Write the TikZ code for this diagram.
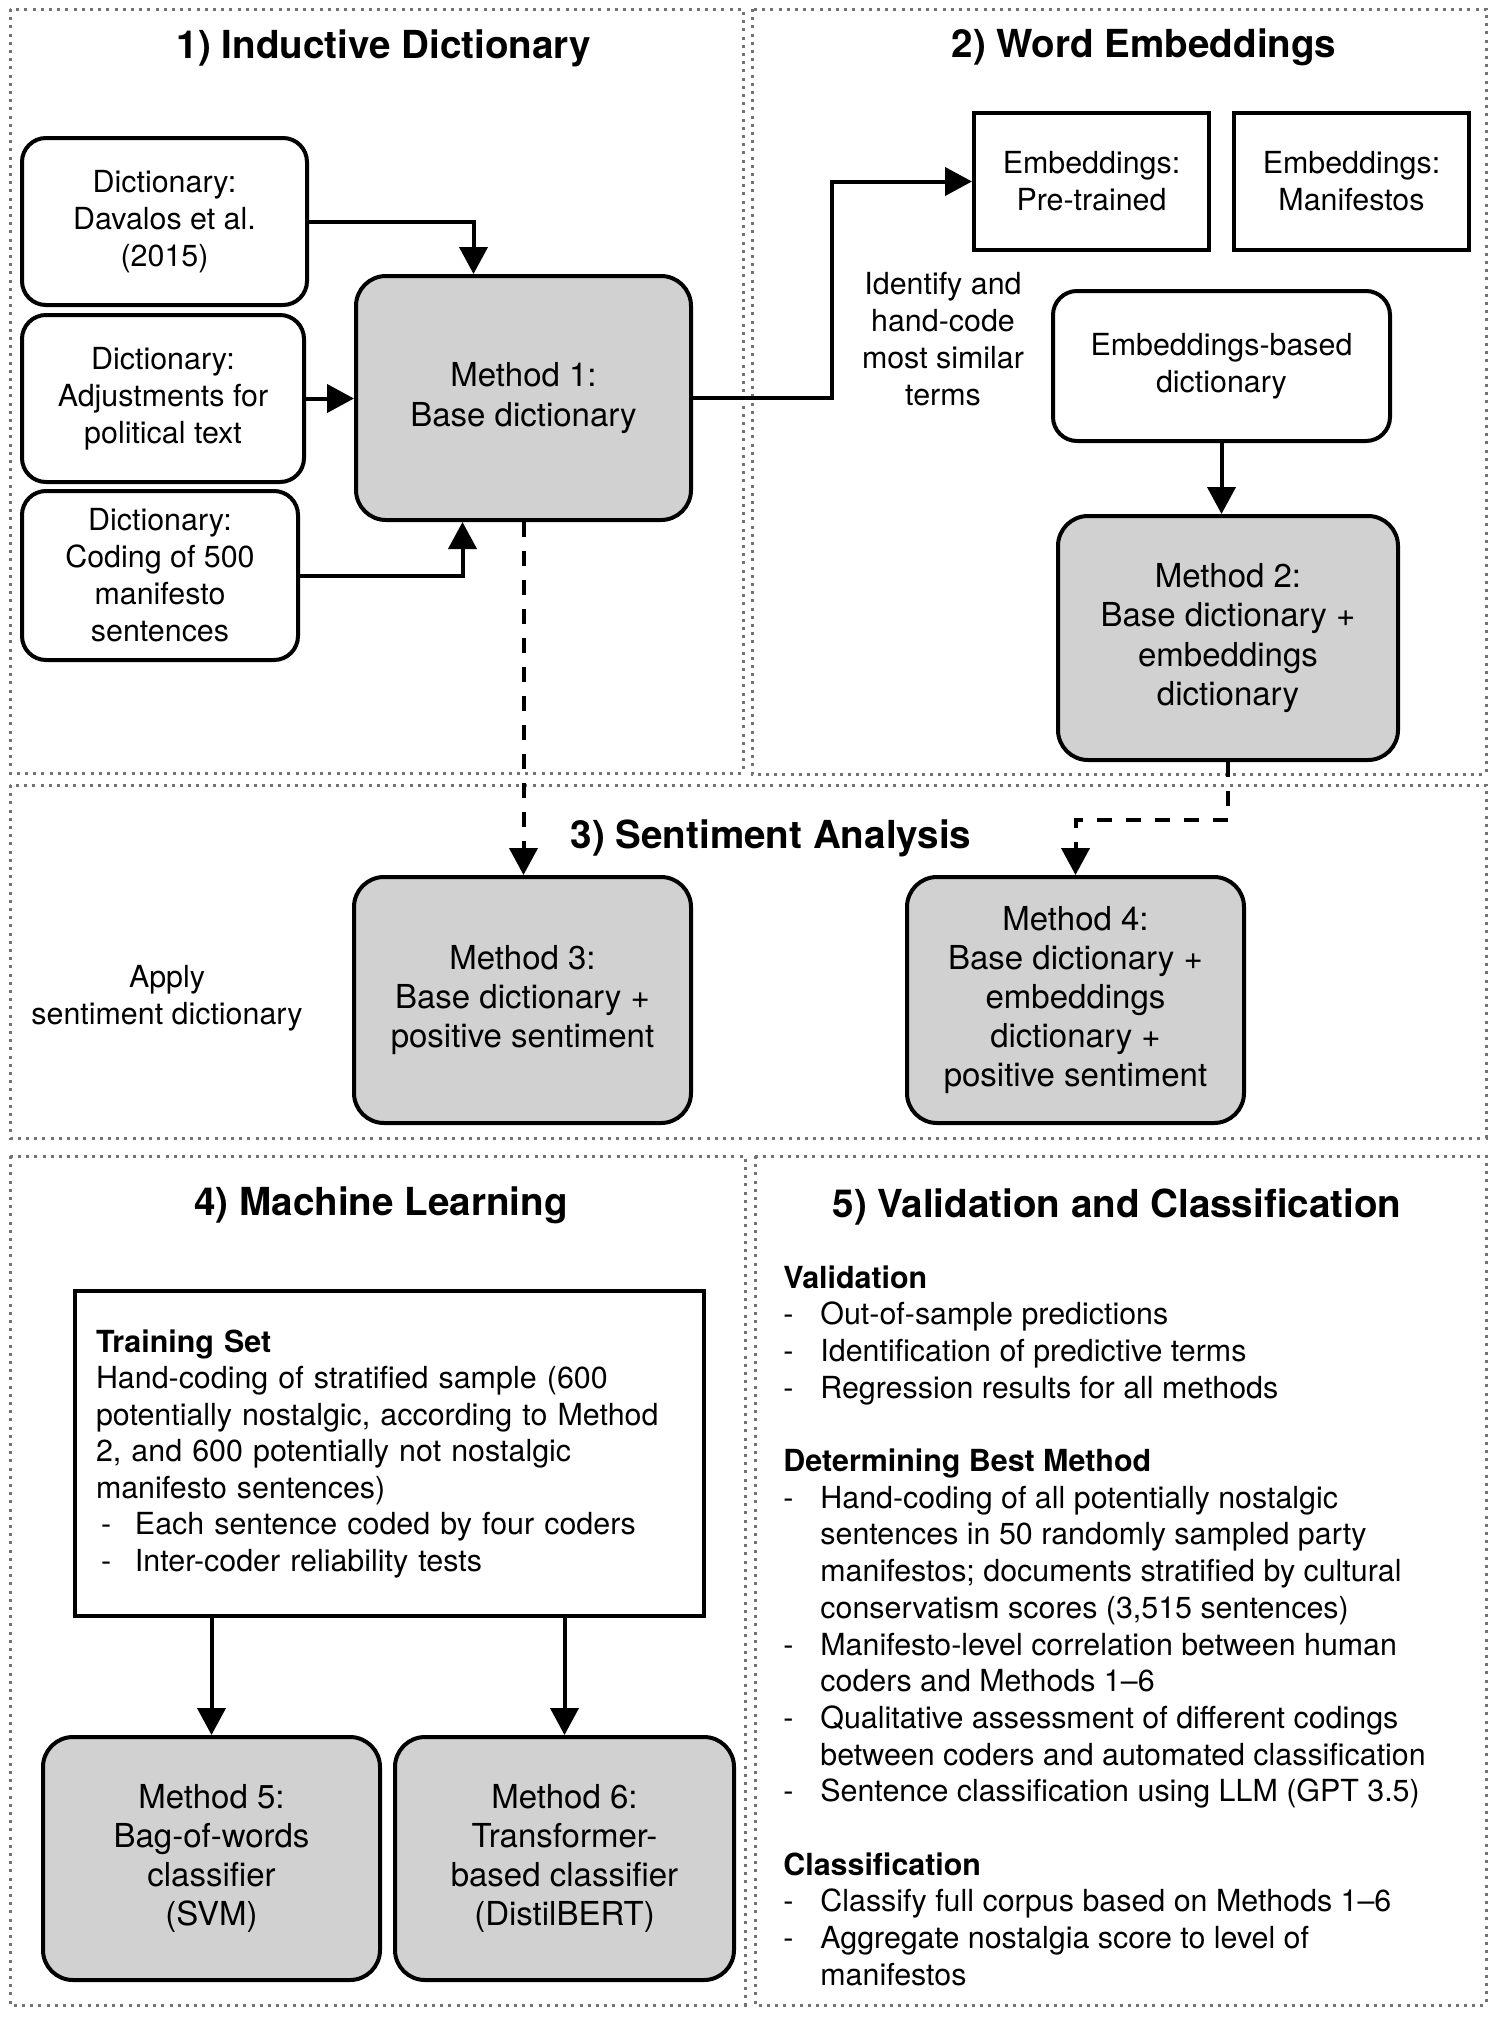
\documentclass[tikz,border=0pt]{standalone}
\usepackage{fontspec}
\setmainfont{TeX Gyre Heros}
\usetikzlibrary{arrows.meta,calc}
\definecolor{boxgray}{RGB}{209,209,209}
\definecolor{panelgray}{RGB}{115,115,115}
\newcommand{\mydash}{\makebox[18.5pt][l]{-}}
\newcommand{\myind}{\hspace*{18.5pt}}
\newcommand{\tdash}{\makebox[19.5pt][l]{\hspace{2.5pt}-}}
\begin{document}
\begin{tikzpicture}[x=0.5pt,y=-0.5pt,
  panel/.style={draw=panelgray, line width=1.5pt, dash pattern=on 1.5pt off 2.6pt},
  ttl/.style={font=\fontsize{19.3}{23}\selectfont\bfseries, inner sep=0pt},
  small/.style={font=\fontsize{15.2}{18.5}\selectfont, align=center},
  wbox/.style={draw, line width=2pt, rounded corners=12pt, fill=white, small},
  sbox/.style={draw, line width=2pt, fill=white, small},
  mbox/.style={draw, line width=2pt, rounded corners=15pt, fill=boxgray,
    font=\fontsize{16.5}{19.6}\selectfont, align=center,
    minimum width=168.5pt, minimum height=122pt},
  arr/.style={line width=2pt, -{Triangle[length=13.5pt,width=14pt]}},
  darr/.style={arr, dash pattern=on 7.5pt off 7pt}]

\useasboundingbox (0,0) rectangle (1500,2019);
\fill[white] (0,0) rectangle (1500,2019);

% panels
\draw[panel] (10,9) rectangle (743,773);
\draw[panel] (752,9) rectangle (1486,774);
\draw[panel] (10,785) rectangle (1486,1138);
\draw[panel] (10,1156) rectangle (745,2005);
\draw[panel] (755,1156) rectangle (1486,2005);

% titles
\node[ttl] (t1) at (384,48) {1) Inductive Dictionary};
\node[ttl] (t2) at (1144,47) {2) Word Embeddings};
\node[ttl] (t3) at (771,838) {3) Sentiment Analysis};
\node[ttl] (t4) at (381,1205) {4) Machine Learning};
\node[ttl] (t5) at (1117,1207) {5) Validation and Classification};

% panel 1
\node[wbox, minimum width=142.5pt, minimum height=83.5pt] (d1) at (164.5,221.5) {Dictionary:\\Davalos et al.\\(2015)};
\node[wbox, minimum width=141pt, minimum height=83.5pt] (d2) at (163,398.5) {Dictionary:\\Adjustments for\\political text};
\node[wbox, minimum width=138pt, minimum height=84.5pt] (d3) at (160,575.5) {Dictionary:\\Coding of 500\\manifesto\\sentences};
\node[mbox, minimum width=167.5pt] (m1) at (523.5,398) {Method 1:\\Base dictionary};

% panel 2
\node[sbox, minimum width=117.5pt, minimum height=68.5pt] (pre) at (1091.5,181.5) {Embeddings:\\Pre-trained};
\node[sbox, minimum width=117.5pt, minimum height=68.5pt] (man) at (1351.5,181.5) {Embeddings:\\Manifestos};
\node[small] (idt) at (943,339.5) {Identify and\\hand-code\\most similar\\terms};
\node[wbox, minimum width=168.5pt, minimum height=75pt] (ebd) at (1221.5,366) {Embeddings-based\\dictionary};
\node[mbox, minimum width=170pt] (m2) at (1228,638) {Method 2:\\Base dictionary +\\embeddings\\dictionary};

% panel 3
\node[mbox, minimum height=123pt] (m3) at (522.5,1000) {Method 3:\\Base dictionary +\\positive sentiment};
\node[mbox, minimum height=123pt] (m4) at (1075.5,1000) {Method 4:\\Base dictionary +\\embeddings\\dictionary +\\positive sentiment};
\node[small] (apl) at (167,998.5) {Apply\\sentiment dictionary};

% panel 4
\node[draw, line width=2pt, fill=white, font=\fontsize{15.2}{18.25}\selectfont,
  align=left, text width=293.5pt, inner xsep=10.5pt, minimum height=162.5pt] (train) at (389.5,1453.5)
 {\textbf{Training Set}\\
  Hand-coding of stratified sample (600\\
  potentially nostalgic, according to Method\\
  2, and 600 potentially not nostalgic\\
  manifesto sentences)\\
  \tdash Each sentence coded by four coders\\
  \tdash Inter-coder reliability tests};
\node[mbox, minimum height=121.5pt] (m5) at (211.5,1858.5) {Method 5:\\Bag-of-words\\classifier\\(SVM)};
\node[mbox, minimum width=169.5pt, minimum height=121.5pt] (m6) at (564.5,1858.5) {Method 6:\\Transformer-\\based classifier\\(DistilBERT)};

% panel 5
\node[font=\fontsize{15.2}{18.35}\selectfont, align=left, inner sep=0pt, anchor=north west] (val) at (783,1265)
 {\textbf{Validation}\\
  \mydash Out-of-sample predictions\\
  \mydash Identification of predictive terms\\
  \mydash Regression results for all methods\\[18.35pt]
  \textbf{Determining Best Method}\\
  \mydash Hand-coding of all potentially nostalgic\\
  \myind sentences in 50 randomly sampled party\\
  \myind manifestos; documents stratified by cultural\\
  \myind conservatism scores (3,515 sentences)\\
  \mydash Manifesto-level correlation between human\\
  \myind coders and Methods 1–6\\
  \mydash Qualitative assessment of different codings\\
  \myind between coders and automated classification\\
  \mydash Sentence classification using LLM (GPT 3.5)\\[18.35pt]
  \textbf{Classification}\\
  \mydash Classify full corpus based on Methods 1–6\\
  \mydash Aggregate nostalgia score to level of\\
  \myind manifestos};

% connectors
\draw[arr] (d1.east) -| ([xshift=-25pt]m1.north);
\draw[arr] (d2.east) -- (d2.east -| m1.west);
\draw[arr] (d3.east) -| ([xshift=-30.5pt]m1.south);
\coordinate (k) at (832,398);
\draw[arr] (m1.east) -- (k) |- (pre.west);
\draw[arr] (ebd.south) -- (ebd.south |- m2.north);
\draw[darr] (m1.south) -- (m1.south |- m3.north);
\coordinate (c1) at (1228,820);
\draw[darr] (m2.south) -- (c1) -| (m4.north);
\draw[arr] (train.south -| m5.north) -- (m5.north);
\draw[arr] (train.south -| m6.north) -- (m6.north);
\end{tikzpicture}
\end{document}
